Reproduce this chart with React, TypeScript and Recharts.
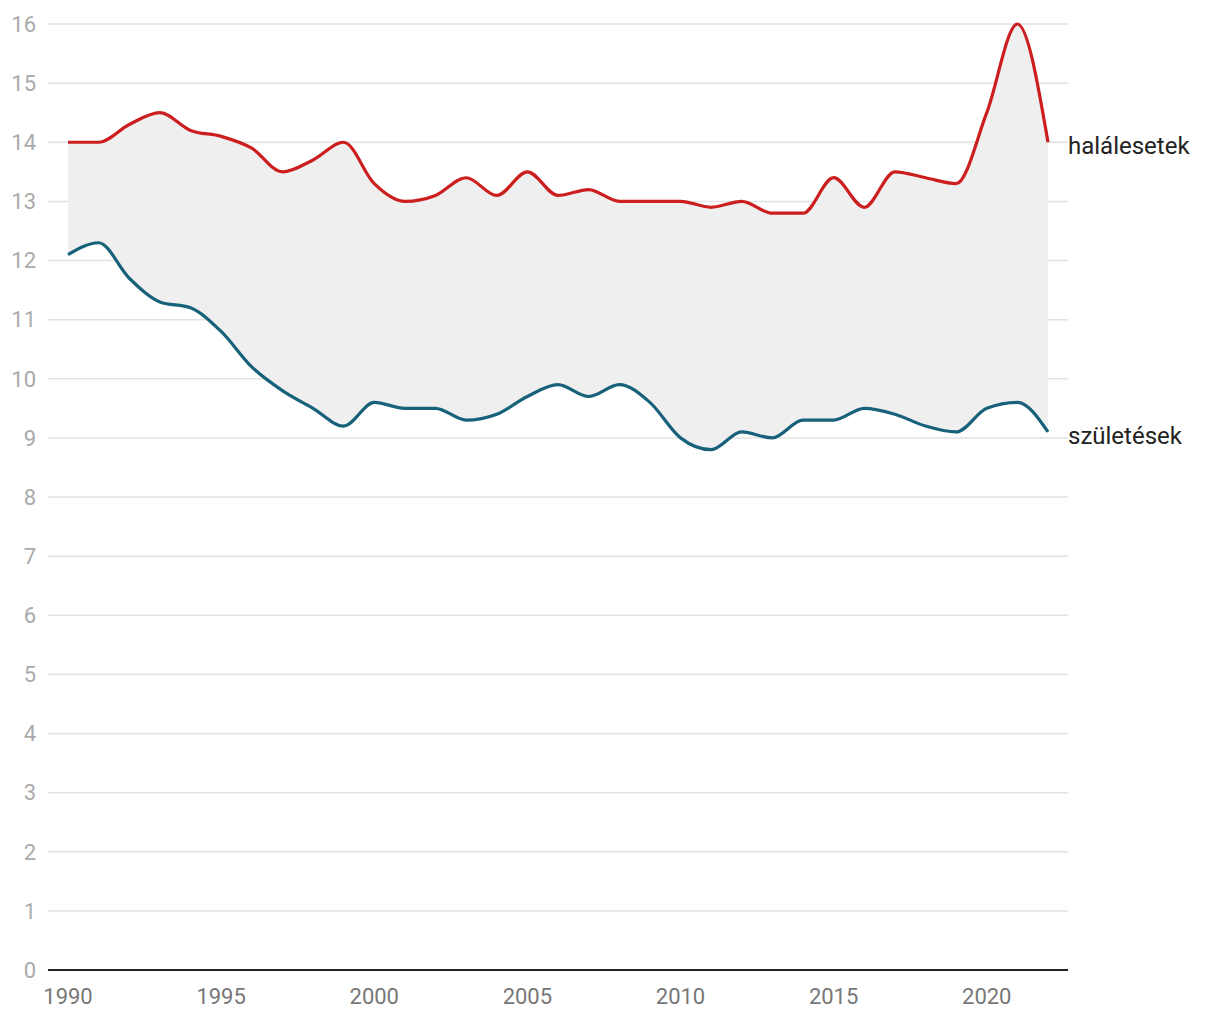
import { Area, CartesianGrid, ComposedChart, Line, XAxis, YAxis } from "recharts";

const years = [
  1990, 1991, 1992, 1993, 1994, 1995, 1996, 1997, 1998, 1999, 2000, 2001, 2002, 2003, 2004, 2005, 2006,
  2007, 2008, 2009, 2010, 2011, 2012, 2013, 2014, 2015, 2016, 2017, 2018, 2019, 2020, 2021, 2022,
];

// halálesetek (ezer lakosra)
const deaths = [
  14.0, 14.0, 14.3, 14.5, 14.2, 14.1, 13.9, 13.5, 13.7, 14.0, 13.3, 13.0, 13.1, 13.4, 13.1, 13.5, 13.1,
  13.2, 13.0, 13.0, 13.0, 12.9, 13.0, 12.8, 12.8, 13.4, 12.9, 13.5, 13.4, 13.3, 14.5, 16.0, 14.0,
];

// születések (ezer lakosra)
const births = [
  12.1, 12.3, 11.7, 11.3, 11.2, 10.8, 10.2, 9.8, 9.5, 9.2, 9.6, 9.5, 9.5, 9.3, 9.4, 9.7, 9.9,
  9.7, 9.9, 9.6, 9.0, 8.8, 9.1, 9.0, 9.3, 9.3, 9.5, 9.4, 9.2, 9.1, 9.5, 9.6, 9.1,
];

const xTicks = [1990, 1995, 2000, 2005, 2010, 2015, 2020];
const yTicks = [0, 1, 2, 3, 4, 5, 6, 7, 8, 9, 10, 11, 12, 13, 14, 15, 16];

const data = years.map((year, i) => ({ year, deaths: deaths[i], births: births[i] }));

const FONT = "Roboto, 'Noto Sans', sans-serif";

function endLabel(text: string) {
  return (props: any) => {
    const { x, y, index } = props;
    if (index !== data.length - 1) return null;
    return (
      <text x={x + 20} y={y + 12} fontSize={24} fill="#222" fontFamily={FONT}>
        {text}
      </text>
    );
  };
}

export default function App() {
  return (
    <div style={{ width: 1200, height: 1010, fontFamily: FONT }}>
      <ComposedChart width={1200} height={1010} data={data} margin={{ top: 16, right: 140, bottom: 8, left: 0 }}>
        <CartesianGrid vertical={false} stroke="#e2e2e2" strokeWidth={1.5} />
        <XAxis
          dataKey="year"
          type="number"
          domain={[1990, 2022]}
          ticks={xTicks}
          padding={{ left: 20, right: 20 }}
          height={40}
          tickLine={false}
          tickMargin={12}
          axisLine={{ stroke: "#222", strokeWidth: 2 }}
          tick={{ fill: "#777", fontSize: 22, fontFamily: FONT }}
        />
        <YAxis
          type="number"
          domain={[0, 16]}
          ticks={yTicks}
          width={40}
          axisLine={false}
          tickLine={false}
          tickMargin={6}
          interval={0}
          tick={{ fill: "#aaa", fontSize: 22, fontFamily: FONT }}
        />
        <Area
          type="monotone"
          dataKey={(d: any) => [d.births, d.deaths]}
          fill="#efefef"
          fillOpacity={1}
          stroke="none"
          isAnimationActive={false}
        />
        <Line
          type="monotone"
          dataKey="deaths"
          stroke="#cc1e1e"
          strokeWidth={3.2}
          dot={false}
          activeDot={false}
          isAnimationActive={false}
          label={endLabel("halálesetek")}
        />
        <Line
          type="monotone"
          dataKey="births"
          stroke="#17627a"
          strokeWidth={3.2}
          dot={false}
          activeDot={false}
          isAnimationActive={false}
          label={endLabel("születések")}
        />
      </ComposedChart>
    </div>
  );
}
